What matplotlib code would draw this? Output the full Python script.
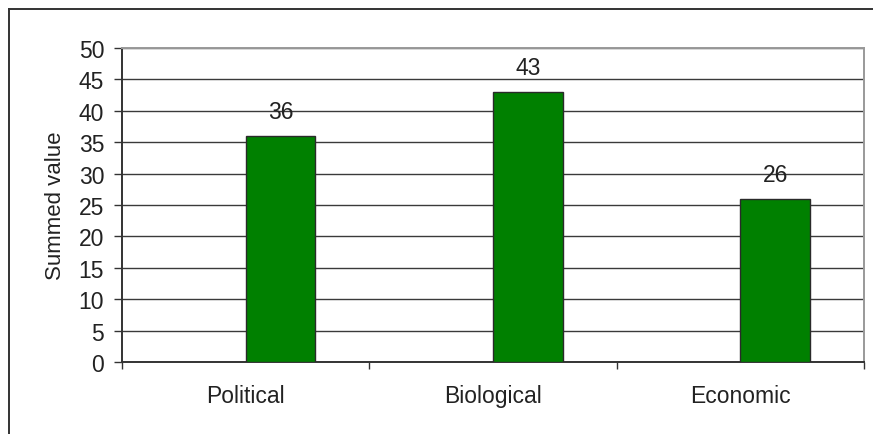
import matplotlib
matplotlib.use("Agg")
import matplotlib.pyplot as plt
from matplotlib.lines import Line2D

plt.rcParams['font.family'] = ['Liberation Sans', 'DejaVu Sans']

categories = ["Political", "Biological", "Economic"]
values = [36, 43, 26]
y_ticks = [0, 5, 10, 15, 20, 25, 30, 35, 40, 45, 50]

W, H, DPI = 873, 435, 100
fig = plt.figure(figsize=(W / DPI, H / DPI), dpi=DPI)
fig.patch.set_facecolor("white")

# chart-area border (runs off the right and bottom edges)
fig.add_artist(Line2D([8.5 / W, 1.01], [1 - 9.5 / H] * 2, transform=fig.transFigure,
                      color="#333333", lw=1.4))
fig.add_artist(Line2D([8.5 / W] * 2, [1 - 9.5 / H, -0.01], transform=fig.transFigure,
                      color="#333333", lw=1.4))

left, right, top, bottom = 122, 864, 49, 363
ax = fig.add_axes([left / W, 1 - bottom / H, (right - left) / W, (bottom - top) / H])

x = list(range(len(categories)))
bar_w = 0.282
bars = ax.bar(x, values, width=bar_w, align="edge", color="#008000",
              edgecolor="#2a2a2a", linewidth=1.0, zorder=3)

for xi, v in zip(x, values):
    ax.annotate(str(v), (xi + bar_w / 2, v), xytext=(0, 17.3), textcoords="offset points",
                ha="center", va="center", fontsize=16.5, color="#222222")

ax.set_xlim(-0.5, len(categories) - 0.5)
ax.set_ylim(0, 50)
ax.set_yticks(y_ticks)
ax.yaxis.grid(True, color="#3a3a3a", linewidth=1.0, zorder=0)
ax.set_axisbelow(True)

ax.set_xticks(x)
ax.set_xticklabels(categories, fontsize=16.5, color="#222222")
ax.tick_params(axis="x", which="major", length=0, pad=16)
ax.set_xticks([i - 0.5 for i in range(len(categories) + 1)], minor=True)
ax.tick_params(axis="x", which="minor", length=5.2, width=1.0, color="#333333", direction="out")
ax.tick_params(axis="y", length=5.8, width=1.0, color="#333333", direction="out",
               pad=7, labelsize=16.5, labelcolor="#222222")

ax.set_ylabel("Summed value", fontsize=16, color="#222222", labelpad=9)

for side in ("left", "bottom"):
    ax.spines[side].set_color("#333333")
    ax.spines[side].set_linewidth(1.4)
for side in ("top", "right"):
    ax.spines[side].set_color("#999999")
    ax.spines[side].set_linewidth(1.4)

fig.savefig("out.png", dpi=DPI)
